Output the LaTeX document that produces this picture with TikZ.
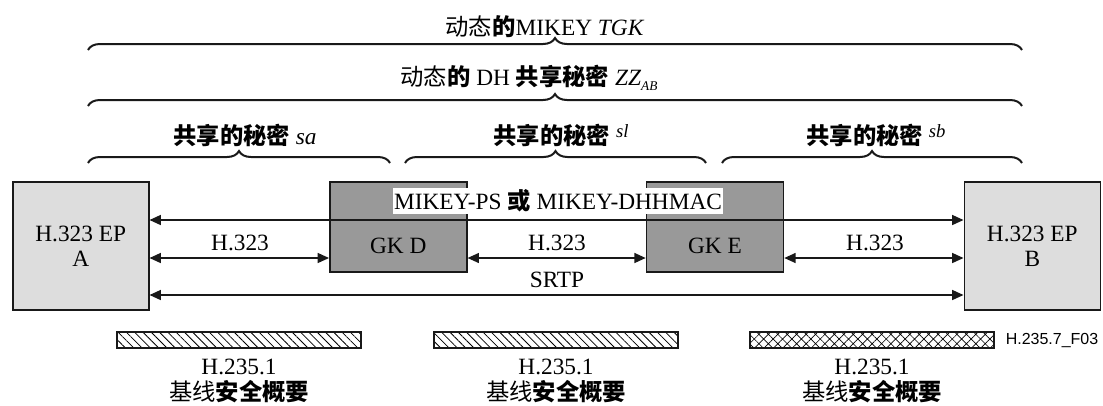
\documentclass[tikz,border=0pt]{standalone}
\usepackage{fontspec}
\setmainfont{Liberation Serif}
\newfontfamily\cjk{Noto Sans CJK SC}
\newfontfamily\sansf{Liberation Sans}
\usetikzlibrary{arrows.meta,decorations.pathreplacing,patterns.meta}
\definecolor{epgray}{HTML}{DDDDDD}
\definecolor{gkgray}{HTML}{999999}
\newcommand\cbold[1]{{\cjk\bfseries #1}}
\newcommand\cthin[1]{{\cjk #1}}
\tikzset{
  big/.style={font=\fontsize{17.5}{19}\selectfont},
  epbox/.style={big, draw=black!90, line width=1.2pt, fill=epgray, minimum width=102pt, minimum height=96pt, align=center, inner sep=0pt},
  gkbox/.style={draw=black!90, line width=1.2pt, fill=gkgray, minimum width=102.75pt, minimum height=67.5pt, inner sep=0pt},
  lbl/.style={big, inner sep=0pt},
  conn/.style={line width=1pt, draw=black!90, {Triangle[length=8.5pt,width=7.5pt]}-{Triangle[length=8.5pt,width=7.5pt]}},
  curly/.style={decorate, decoration={brace, amplitude=9pt}, line width=1.5pt, draw=black!90},
  bar/.style={draw=black!90, line width=0.8pt, minimum width=183pt, minimum height=12pt, inner sep=0pt},
}
\begin{document}
\begin{tikzpicture}[x=0.75pt,y=-0.75pt]
\useasboundingbox (0,0) rectangle (1103,405);
% boxes
\node[epbox] (A) at (80.7,246) {H.323 EP\\A};
\node[gkbox] (D) at (398.3,227) {};
\node[gkbox] (E) at (715,227) {};
\node[epbox] (B) at (1032.3,246) {H.323 EP\\B};
\node[lbl] (Dt) at (398.3,246) {GK D};
\node[lbl] (Et) at (715,246) {GK E};
% rows
\coordinate (ym) at (0,220);
\coordinate (yh) at (0,258);
\coordinate (ys) at (0,295);
\draw[conn] (A.east |- ym) -- (B.west |- ym);
\draw[conn] (A.east |- yh) -- (D.west |- yh);
\draw[conn] (D.east |- yh) -- (E.west |- yh);
\draw[conn] (E.east |- yh) -- (B.west |- yh);
\draw[conn] (A.east |- ys) -- (B.west |- ys);
\node[lbl, fill=white, inner sep=1pt] (mk) at (558,201) {MIKEY-PS \cbold{或} MIKEY-DHHMAC};
\node[lbl] (h1) at (240,243) {H.323};
\node[lbl] (h2) at (557,243) {H.323};
\node[lbl] (h3) at (875,243) {H.323};
\node[lbl] (srtp) at (557,280) {SRTP};
% braces
\coordinate (t1) at (88,50);   \coordinate (t2) at (1022,50);
\coordinate (u1) at (88,106);  \coordinate (u2) at (1022,106);
\coordinate (a1) at (88,163);  \coordinate (a2) at (390,163);
\coordinate (l1) at (405,163); \coordinate (l2) at (706,163);
\coordinate (b1) at (722,163); \coordinate (b2) at (1022,163);
\draw[curly] (t1) -- (t2);
\draw[curly] (u1) -- (u2);
\draw[curly] (a1) -- (a2);
\draw[curly] (l1) -- (l2);
\draw[curly] (b1) -- (b2);
\node[lbl] (tgk) at (545,27) {\cthin{动态}\cbold{的}MIKEY \textit{TGK}};
\node[lbl] (zz) at (529,78) {\cthin{动态}\cbold{的} DH \cbold{共享秘密} \textit{ZZ}\raisebox{-0.45ex}{\fontsize{10}{10}\selectfont\itshape AB}};
\node[lbl] (sa) at (245,135) {\cbold{共享的秘密} \textit{sa}};
\node[lbl] (sl) at (561,135) {\cbold{共享的秘密} \raisebox{0.6ex}{\fontsize{14}{14}\selectfont\itshape sl}};
\node[lbl] (sb) at (876,135) {\cbold{共享的秘密} \raisebox{0.6ex}{\fontsize{14}{14}\selectfont\itshape sb}};
% bars
\node[bar, pattern={Lines[angle=-45,distance=4.4pt,line width=0.6pt]}] (p1) at (239,340) {};
\node[bar, pattern={Lines[angle=-45,distance=4.4pt,line width=0.6pt]}] (p2) at (556,340) {};
\node[bar, pattern={Hatch[angle=45,distance=5pt,line width=0.5pt]}] (p3) at (872,340) {};
\node[font=\sansf\fontsize{12}{14}\selectfont, inner sep=0pt] (fig) at (1052,340) {H.235.7\_F03};
\node[lbl] (x1) at (239,367) {H.235.1};
\node[lbl] (x2) at (556,367) {H.235.1};
\node[lbl] (x3) at (872,367) {H.235.1};
\node[lbl] (y1) at (239,392) {\cthin{基线}\cbold{安全概要}};
\node[lbl] (y2) at (556,392) {\cthin{基线}\cbold{安全概要}};
\node[lbl] (y3) at (872,392) {\cthin{基线}\cbold{安全概要}};
\end{tikzpicture}
\end{document}
